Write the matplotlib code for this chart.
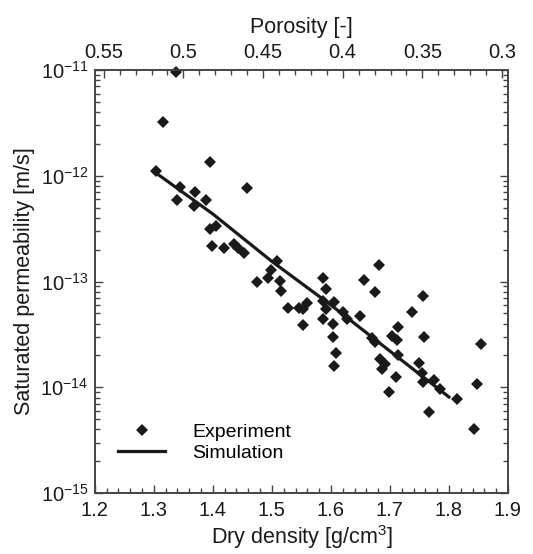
import matplotlib
matplotlib.use("Agg")
import matplotlib.pyplot as plt
from matplotlib.ticker import MultipleLocator, LogLocator, NullFormatter, FixedLocator

plt.rcParams['font.family'] = ['Liberation Sans', 'DejaVu Sans']
plt.rcParams['mathtext.fontset'] = 'custom'
plt.rcParams['mathtext.rm'] = 'Liberation Sans'
plt.rcParams['mathtext.default'] = 'regular'

# experiment: dry density [g/cm3] and saturated permeability [m/s]
exp_density = [1.338, 1.316, 1.303, 1.395, 1.345, 1.369, 1.339, 1.368, 1.388, 1.458,
               1.395, 1.405, 1.398, 1.419, 1.435, 1.443, 1.452, 1.509, 1.499, 1.494,
               1.514, 1.475, 1.515, 1.528, 1.546, 1.552, 1.559, 1.553, 1.587, 1.592,
               1.587, 1.605, 1.592, 1.587, 1.603, 1.621, 1.628, 1.603, 1.608, 1.606,
               1.650, 1.656, 1.682, 1.675, 1.669, 1.675, 1.703, 1.712, 1.713, 1.737,
               1.714, 1.683, 1.692, 1.686, 1.711, 1.855, 1.848, 1.843, 1.756, 1.758,
               1.698, 1.750, 1.755, 1.756, 1.775, 1.785, 1.813, 1.767]
exp_perm = [9.5e-12, 3.2e-12, 1.1e-12, 1.34e-12, 7.8e-13, 7.1e-13, 5.95e-13, 5.2e-13, 5.85e-13, 7.6e-13,
            3.17e-13, 3.36e-13, 2.17e-13, 2.07e-13, 2.26e-13, 2.07e-13, 1.87e-13, 1.58e-13, 1.29e-13, 1.08e-13,
            1.02e-13, 9.96e-14, 8.1e-14, 5.6e-14, 5.6e-14, 5.56e-14, 6.3e-14, 3.9e-14, 1.07e-13, 8.5e-14,
            6.6e-14, 6.4e-14, 5.5e-14, 4.4e-14, 3.95e-14, 5.2e-14, 4.4e-14, 2.96e-14, 2.1e-14, 1.6e-14,
            4.7e-14, 1.04e-13, 1.44e-13, 8.0e-14, 2.94e-14, 2.69e-14, 3.05e-14, 2.8e-14, 3.7e-14, 5.2e-14,
            2.0e-14, 1.86e-14, 1.66e-14, 1.49e-14, 1.24e-14, 2.55e-14, 1.07e-14, 4.05e-15, 7.3e-14, 2.96e-14,
            9.1e-15, 1.69e-14, 1.38e-14, 1.12e-14, 1.17e-14, 9.55e-15, 7.7e-15, 5.8e-15]

# simulation line
sim_density = [1.30, 1.40, 1.50, 1.60, 1.70, 1.80]
sim_perm = [1.1e-12, 4.35e-13, 1.55e-13, 6.0e-14, 2.2e-14, 8.1e-15]

rho_s = 2.7
porosity_ticks = [0.55, 0.5, 0.45, 0.4, 0.35, 0.3]
porosity_labels = ['0.55', '0.5', '0.45', '0.4', '0.35', '0.3']
porosity_minor = [0.54, 0.53, 0.52, 0.51, 0.49, 0.48, 0.47, 0.46, 0.44, 0.43, 0.42, 0.41,
                  0.39, 0.38, 0.37, 0.36, 0.34, 0.33, 0.32, 0.31]

ink = '#1a1a1a'
spine = '#444444'

fig = plt.figure(figsize=(5.33, 5.54), dpi=100)
ax = fig.add_axes([0.178, 0.110, 0.775, 0.7635])

ax.plot(exp_density, exp_perm, 'D', color=ink, ms=6, mew=0, label='Experiment', clip_on=False, zorder=3)
ax.plot(sim_density, sim_perm, '-', color=ink, lw=2.3, label='Simulation', zorder=2)

ax.set_yscale('log')
ax.set_xlim(1.2, 1.9)
ax.set_ylim(1e-15, 1e-11)

ax.xaxis.set_major_locator(MultipleLocator(0.1))
ax.xaxis.set_minor_locator(MultipleLocator(0.02))
ax.yaxis.set_major_locator(LogLocator(base=10, numticks=10))
ax.yaxis.set_minor_locator(LogLocator(base=10, subs=range(2, 10), numticks=10))
ax.yaxis.set_minor_formatter(NullFormatter())

ax.tick_params(which='both', direction='in', top=False, right=True, color=spine, labelsize=14.5, labelcolor=ink)
ax.tick_params(which='major', length=6, width=1)
ax.tick_params(which='minor', length=3.5, width=1)
ax.tick_params(axis='x', which='major', pad=6)
ax.tick_params(axis='y', which='major', pad=4.5)
for s in ax.spines.values():
    s.set_color(spine)
    s.set_linewidth(1.2)

ax.set_xlabel('Dry density [g/cm$^3$]', fontsize=15.5, color=ink, labelpad=2)
ax.set_ylabel('Saturated permeability [m/s]', fontsize=15.5, color=ink, labelpad=4)

# porosity axis on top, n = 1 - rho / rho_s
top = ax.twiny()
top.set_xlim(ax.get_xlim())
top.xaxis.set_major_locator(FixedLocator([rho_s * (1 - n) for n in porosity_ticks]))
top.xaxis.set_minor_locator(FixedLocator([rho_s * (1 - n) for n in porosity_minor]))
top.set_xticklabels(porosity_labels)
top.tick_params(which='both', direction='in', color=spine, labelsize=14.5, labelcolor=ink)
top.tick_params(which='major', length=6, width=1, pad=6)
top.tick_params(which='minor', length=3.5, width=1)
for s in top.spines.values():
    s.set_color(spine)
    s.set_linewidth(1.2)
top.set_xlabel('Porosity [-]', fontsize=15.5, color=ink, labelpad=7)

ax.legend(loc='lower left', bbox_to_anchor=(0.038, 0.056), frameon=False, fontsize=14,
          handlelength=2.4, handletextpad=1.4, labelspacing=0.15, borderaxespad=0)

fig.savefig('out.png', dpi=100)
